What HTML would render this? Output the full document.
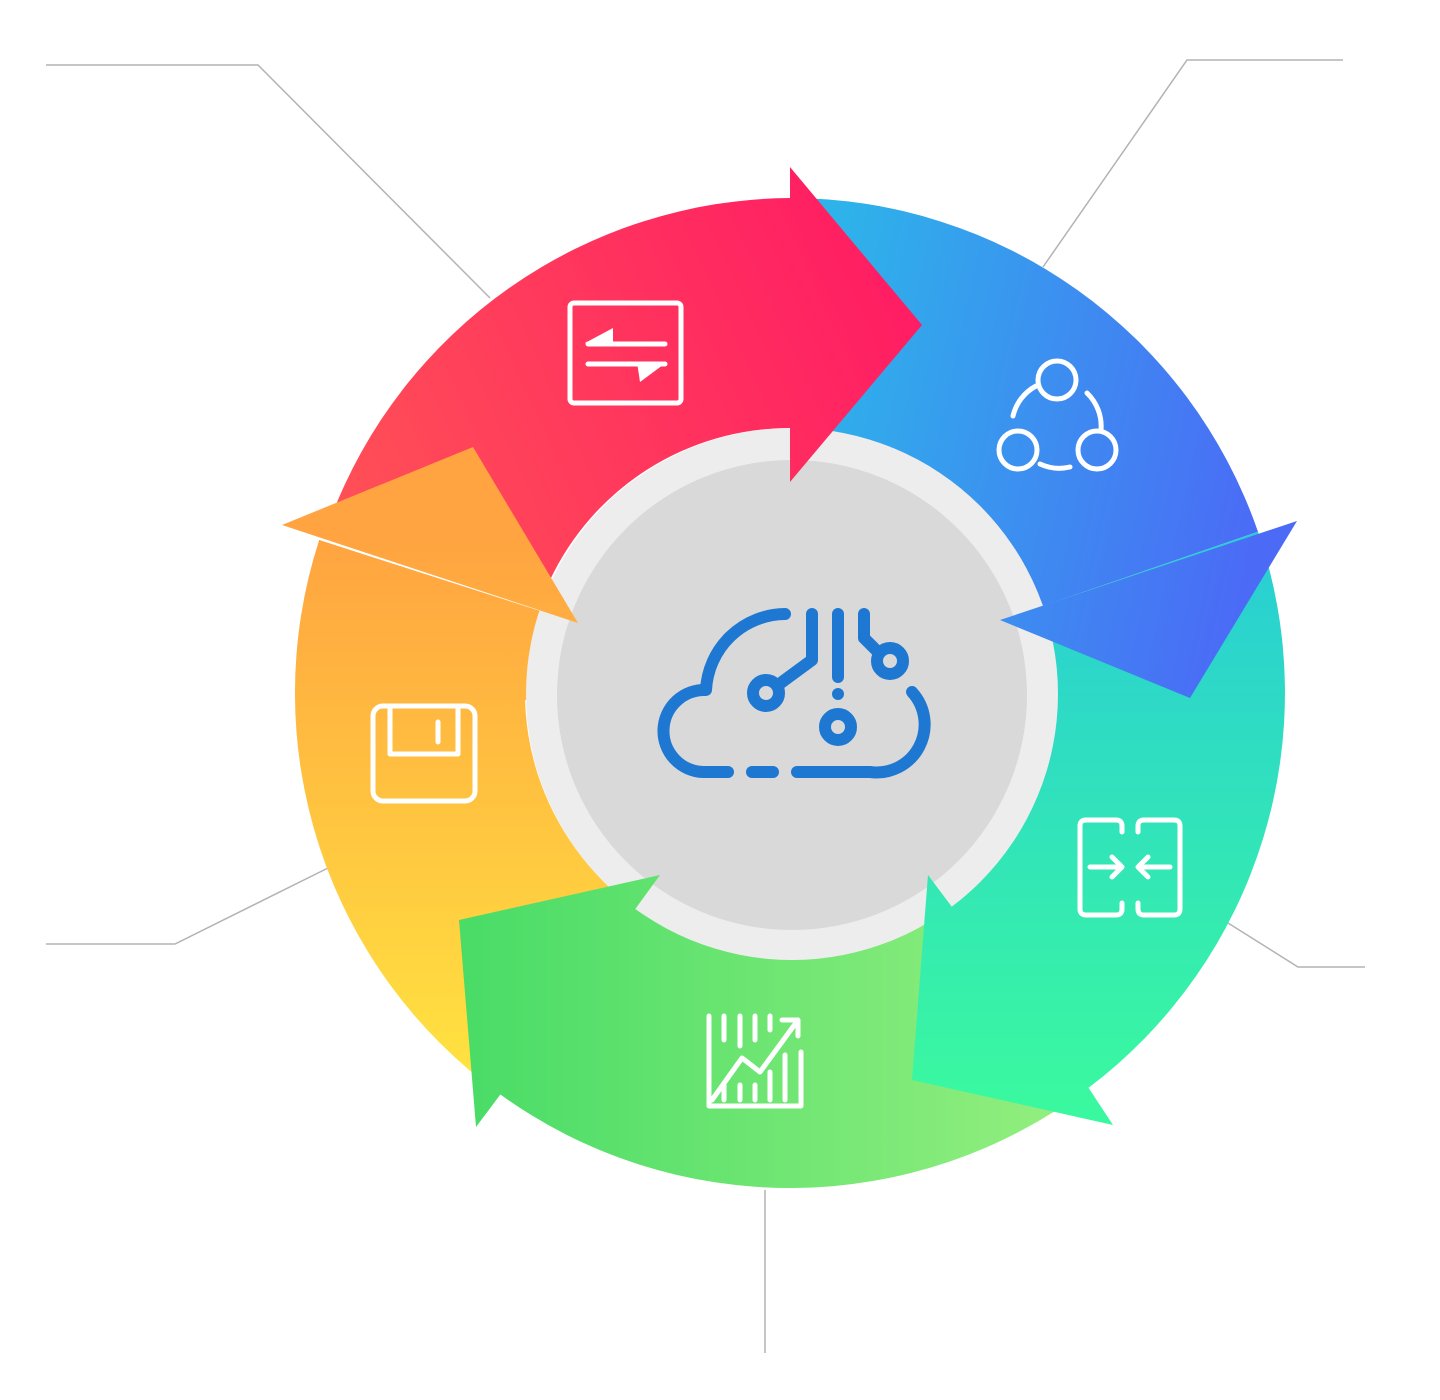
<!DOCTYPE html>
<html><head><meta charset="utf-8"><style>html,body{margin:0;padding:0;background:#fff}svg{display:block}</style></head>
<body>
<svg width="1440" height="1400" viewBox="0 0 1440 1400" xmlns="http://www.w3.org/2000/svg">
<defs>
<linearGradient id="gr" gradientUnits="userSpaceOnUse" x1="330" y1="520" x2="920" y2="250"><stop offset="0" stop-color="#ff5156"/><stop offset="1" stop-color="#ff1a64"/></linearGradient>
<linearGradient id="gb" gradientUnits="userSpaceOnUse" x1="830" y1="300" x2="1290" y2="400"><stop offset="0" stop-color="#2eb2ea"/><stop offset="1" stop-color="#4b6af6"/></linearGradient>
<linearGradient id="gt" gradientUnits="userSpaceOnUse" x1="0" y1="560" x2="0" y2="1100"><stop offset="0" stop-color="#29cfd3"/><stop offset="1" stop-color="#3af8a0"/></linearGradient>
<linearGradient id="gg" gradientUnits="userSpaceOnUse" x1="1080" y1="0" x2="470" y2="0"><stop offset="0" stop-color="#95ef7f"/><stop offset="1" stop-color="#4adc67"/></linearGradient>
<linearGradient id="go" gradientUnits="userSpaceOnUse" x1="0" y1="540" x2="0" y2="1080"><stop offset="0" stop-color="#ffa440"/><stop offset="1" stop-color="#ffe340"/></linearGradient>
</defs>
<g stroke="#b3b3b3" stroke-width="1.5" fill="none">
<polyline points="46,65 258,65 490,298"/>
<polyline points="1343,60 1187,60 1043,267"/>
<polyline points="1365,967 1298,967 1228,923"/>
<polyline points="765,1190 765,1353"/>
<polyline points="46,944 175,944 328,868"/>
</g>
<!-- bands -->
<path d="M330,520 A495,495 0 0 1 790,198 L790,428 A265,265 0 0 0 550,580 Z" fill="url(#gr)"/>
<path d="M790,198 A495,495 0 0 1 1258,531.8 L1040.6,606.7 A265,265 0 0 0 790,428 Z" fill="url(#gb)"/>
<path d="M1258,531.8 A495,495 0 0 1 1087.9,1088.3 L949.5,904.6 A265,265 0 0 0 1040.6,606.7 Z" fill="url(#gt)"/>
<path d="M1087.9,1088.3 A495,495 0 0 1 499,1093.5 L634.2,907.4 A265,265 0 0 0 949.5,904.6 Z" fill="url(#gg)"/>
<path d="M499,1093.5 A495,495 0 0 1 319.2,540 L538,611.1 A265,265 0 0 0 634.2,907.4 Z" fill="url(#go)"/>
<polygon points="319,540 578,623 530,700 300,700" fill="url(#go)"/>
<circle cx="792" cy="694" r="266" fill="#ededed"/>
<circle cx="792" cy="695" r="235" fill="#d9d9d9"/>
<!-- arrowheads -->
<polygon points="790,167 922,325 790,482" fill="url(#gr)"/>
<polygon points="1297,521 1190,698 1000,620" fill="url(#gb)"/>
<polygon points="928,875 952,907 1088,1087 1113,1125 912,1080" fill="url(#gt)"/>
<polygon points="660,875 459,920 476,1127 500,1095" fill="url(#gg)"/>
<polygon points="282,525 473,447 578,623" fill="url(#go)"/>
<!-- center icon -->
<g stroke="#1e78d2" stroke-width="12" fill="none" stroke-linecap="round" stroke-linejoin="round">
<path d="M785,614 A80,80 0 0 0 706,690 A40,40 0 0 0 703,772 L728,772"/>
<path d="M752,772 L773,772"/>
<path d="M797,772 L870,772 A48,48 0 0 0 912,692"/>
<path d="M812,614 L812,660 L778,685"/>
<circle cx="766" cy="693" r="13"/>
<path d="M838,614 L838,677"/>
<circle cx="838" cy="727" r="13"/>
<path d="M864,614 L864,638 L878,652"/>
<circle cx="890" cy="661" r="13"/>
</g>
<circle cx="838" cy="694" r="6" fill="#1e78d2"/>
<!-- white icons -->
<g stroke="#fff" stroke-width="5" fill="none" stroke-linecap="round" stroke-linejoin="round">
<rect x="570" y="303" width="111" height="100" rx="4"/>
<path d="M588,344 L665,344 M588,364 L665,364"/>
<circle cx="1057" cy="380" r="19"/><circle cx="1018" cy="450" r="19"/><circle cx="1097" cy="450" r="19"/>
<path d="M1013,416 A46,46 0 0 1 1036,386 M1087,393 A46,46 0 0 1 1101,430 M1040,464 A46,46 0 0 0 1070,467"/>
<path d="M1122,832 L1122,826 Q1122,820 1116,820 L1086,820 Q1080,820 1080,826 L1080,909 Q1080,915 1086,915 L1116,915 Q1122,915 1122,909 L1122,903"/>
<path d="M1138,832 L1138,826 Q1138,820 1144,820 L1174,820 Q1180,820 1180,826 L1180,909 Q1180,915 1174,915 L1144,915 Q1138,915 1138,909 L1138,903"/>
<path d="M1090,867 L1122,867 M1112,857 L1122,867 L1112,877 M1170,867 L1138,867 M1148,857 L1138,867 L1148,877"/>
<rect x="373" y="706" width="102" height="95" rx="10"/>
<path d="M390,706 L390,754 L458,754 L458,706 M438,722 L438,742"/>
<path d="M709,1016 L709,1106 L801,1106 L801,1052 M724,1016 L724,1040 M740,1016 L740,1046 M755,1016 L755,1040 M770,1016 L770,1030 M724,1085 L724,1100 M740,1085 L740,1100 M755,1085 L755,1100 M770,1072 L770,1100 M785,1055 L785,1100 M712,1100 L742,1058 L760,1072 L798,1020 M782,1020 L798,1020 L798,1036"/>
</g>
<polygon points="585,343 613,328 613,343" fill="#fff"/>
<polygon points="637,362 667,362 640,382" fill="#fff"/>
</svg>
</body></html>
